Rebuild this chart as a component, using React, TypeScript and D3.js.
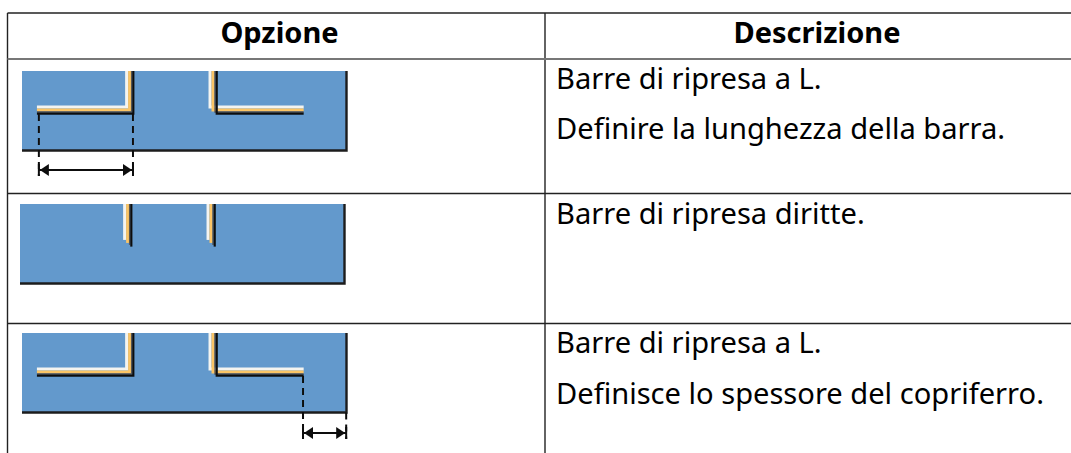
import * as d3 from "d3";

const headers = ["Opzione", "Descrizione"];
const rowTexts = [
  ["Barre di ripresa a L.", "Definire la lunghezza della barra."],
  ["Barre di ripresa diritte."],
  ["Barre di ripresa a L.", "Definisce lo spessore del copriferro."],
];

// bar positions along the beam, percent of beam length / depth
const barStarts = [4.6, 34.4, 60.1, 86.8];
const barDepth = 54;
const barTypes = ["L", "straight", "L"];
const dimFrom = [5.2, null, 86.6];
const dimTo = [34.2, null, 99.9];

const W = 1071;
const H = 453;
const font = "'Noto Sans', 'Open Sans', sans-serif";
const rowLines = [59, 193.5, 323.5];
const beamTops = [71, 204, 333];
const beamLefts = [22, 20, 22];
const dimY = [170, 0, 433];
const textLines = [
  [89.3, 139.3],
  [223.5],
  [353.3, 404],
];
const colX = 545;

const line = d3.line();

function Beam({ idx }) {
  const x = d3.scaleLinear().domain([0, 100]).range([beamLefts[idx], beamLefts[idx] + 324.5]);
  const y = d3.scaleLinear().domain([0, 100]).range([beamTops[idx], beamTops[idx] + 79.5]);
  const type = barTypes[idx];

  const bars =
    type === "L"
      ? [
          [[x(barStarts[0]), y(barDepth)], [x(barStarts[1]), y(barDepth)], [x(barStarts[1]), y(0)]],
          [[x(barStarts[3]), y(barDepth)], [x(barStarts[2]), y(barDepth)], [x(barStarts[2]), y(0)]],
        ]
      : [
          [[x(barStarts[1]), y(barDepth)], [x(barStarts[1]), y(0)]],
          [[x(barStarts[2]), y(barDepth)], [x(barStarts[2]), y(0)]],
        ];

  // layers of a bar sit up and to the left of the shadow, free ends stay put
  const shift = (pts, d) =>
    pts.map((p, i) => {
      const isTop = i === pts.length - 1;
      const isFree = i === 0 && pts.length === 3;
      return [isFree ? p[0] : p[0] - d, isTop ? p[1] : p[1] - d];
    });

  const from = dimFrom[idx];
  const to = dimTo[idx];
  const hasDim = from !== null && to !== null;
  const x1 = hasDim ? x(from) : 0;
  const x2 = hasDim ? x(to) : 0;
  const yd = dimY[idx];
  const arrow = 9;

  return (
    <g filter="url(#soft)">
      <rect x={x(0)} y={y(0)} width={x(100) - x(0)} height={y(100) - y(0)} fill="#6399cc" />
      <path
        d={line([[x(0), y(100)], [x(100), y(100)], [x(100), y(0)]])}
        fill="none"
        stroke="#1c1c1c"
        strokeWidth={2.4}
      />
      {bars.map((pts, i) => (
        <g key={i} fill="none" strokeLinejoin="miter">
          <path d={line(shift(pts, 7))} stroke="#f4f4f0" strokeWidth={3} />
          <path d={line(shift(pts, 4))} stroke="#fbc566" strokeWidth={3} />
          <path d={line(shift(pts, 2))} stroke="#555" strokeWidth={1.4} />
          <path d={line(shift(pts, 0.3))} stroke="#111" strokeWidth={2.2} />
        </g>
      ))}
      {hasDim && (
        <g stroke="#111" fill="none">
          <path
            d={line([[x1, y(barDepth)], [x1, yd + 6]])}
            strokeWidth={2}
            strokeDasharray="7,5"
          />
          <path
            d={line([[x2, idx === 2 ? y(100) : y(barDepth)], [x2, yd + 6]])}
            strokeWidth={2}
            strokeDasharray="7,5"
          />
          <path d={line([[x1, yd], [x2, yd]])} strokeWidth={1.8} />
          <path
            d={line([[x1 + 1, yd], [x1 + 1 + arrow, yd - 6], [x1 + 1 + arrow, yd + 6]]) + "Z"}
            fill="#111"
            stroke="none"
          />
          <path
            d={line([[x2 - 1, yd], [x2 - 1 - arrow, yd - 6], [x2 - 1 - arrow, yd + 6]]) + "Z"}
            fill="#111"
            stroke="none"
          />
          <path d={line([[x1, yd - 6], [x1, yd + 6]])} strokeWidth={2} />
          <path d={line([[x2, yd - 6], [x2, yd + 6]])} strokeWidth={2} />
        </g>
      )}
    </g>
  );
}

export default function App() {
  return (
    <svg
      width={W}
      height={H}
      viewBox={`0 0 ${W} ${H}`}
      style={{ position: "fixed", left: 0, top: 0, background: "#fff" }}
    >
      <defs>
        <filter id="soft" x="-5%" y="-5%" width="110%" height="110%">
          <feGaussianBlur stdDeviation="0.55" />
        </filter>
      </defs>

      {/* table grid */}
      <g stroke="#222" strokeWidth={1.4}>
        <line x1={7.5} y1={13} x2={W} y2={13} />
        <line x1={7.5} y1={13} x2={7.5} y2={H} />
        <line x1={colX} y1={13} x2={colX} y2={H} />
        <line x1={7.5} y1={rowLines[0]} x2={W} y2={rowLines[0]} stroke="#777" strokeWidth={2} />
        <line x1={7.5} y1={rowLines[1]} x2={W} y2={rowLines[1]} />
        <line x1={7.5} y1={rowLines[2]} x2={W} y2={rowLines[2]} />
      </g>

      <g fontFamily={font} fontSize={29} fontWeight={700} textAnchor="middle" fill="#000">
        <text x={279.5} y={42.5}>{headers[0]}</text>
        <text x={817} y={42.5}>{headers[1]}</text>
      </g>

      {barTypes.map((_, i) => (
        <Beam key={i} idx={i} />
      ))}

      <g fontFamily={font} fontSize={29.1} fill="#000">
        {rowTexts.map((lines, i) =>
          lines.map((t, j) => (
            <text key={j} x={556} y={textLines[i][j]}>
              {t}
            </text>
          ))
        )}
      </g>
    </svg>
  );
}
